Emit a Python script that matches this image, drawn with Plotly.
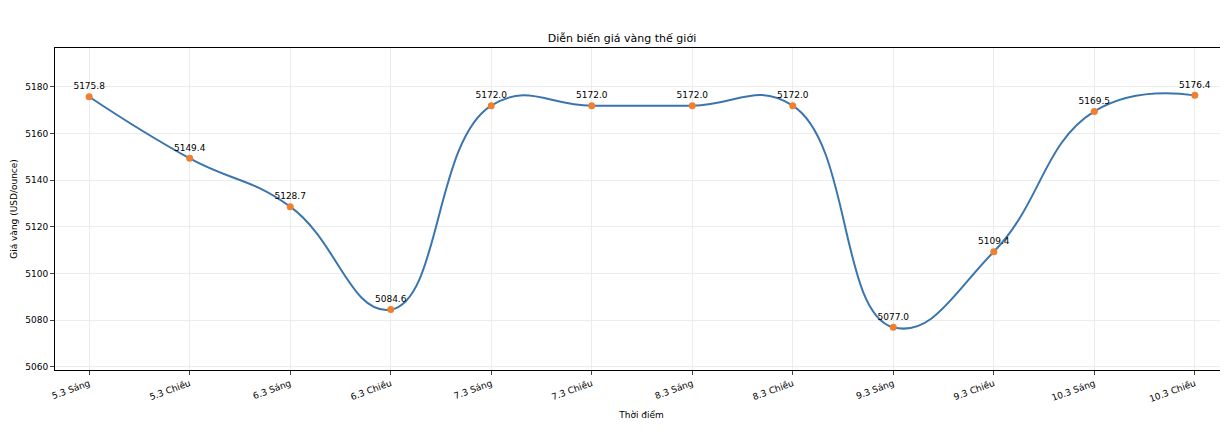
import plotly.graph_objects as go

labels = ["5.3 Sáng","5.3 Chiều","6.3 Sáng","6.3 Chiều","7.3 Sáng","7.3 Chiều",
          "8.3 Sáng","8.3 Chiều","9.3 Sáng","9.3 Chiều","10.3 Sáng","10.3 Chiều"]
prices = [5175.8,5149.4,5128.7,5084.6,5172.0,5172.0,5172.0,5172.0,5077.0,5109.4,5169.5,5176.4]
x = list(range(len(labels)))

fig = go.Figure()
fig.add_trace(go.Scatter(x=x, y=prices, mode="lines",
                         line=dict(color="#3a76ad", width=2, shape="spline", smoothing=1.3),
                         hoverinfo="skip", showlegend=False))
fig.add_trace(go.Scatter(x=x, y=prices, mode="markers+text",
                         marker=dict(color="#f07f2e", size=7),
                         text=[f"{p:.1f}" for p in prices], textposition="top center",
                         textfont=dict(size=9, color="black"), showlegend=False))

fig.update_layout(
    width=1228, height=438, paper_bgcolor="white", plot_bgcolor="white",
    margin=dict(l=47, r=8, t=40, b=76),
    font=dict(family="DejaVu Sans", size=9, color="black"),
    title=dict(text="Diễn biến giá vàng thế giới", x=0.5, xanchor="center", y=0.94, font=dict(size=11)),
    xaxis=dict(range=[-0.34, 11.33], tickvals=x, ticktext=labels, tickangle=-20, automargin=False,
               showgrid=True, gridcolor="#ececec", showline=True, linecolor="black", mirror=True,
               ticks="outside", ticklen=4, title=dict(text="Thời điểm", font=dict(size=9), standoff=8), zeroline=False),
    yaxis=dict(range=[5058.7, 5196.7], tickvals=list(range(5060, 5181, 20)), automargin=False,
               showgrid=True, gridcolor="#ececec", showline=True, linecolor="black", mirror=True,
               ticks="outside", ticklen=4, title=dict(text="Giá vàng (USD/ounce)", font=dict(size=9), standoff=6), zeroline=False),
)
fig.write_html("out.html")
